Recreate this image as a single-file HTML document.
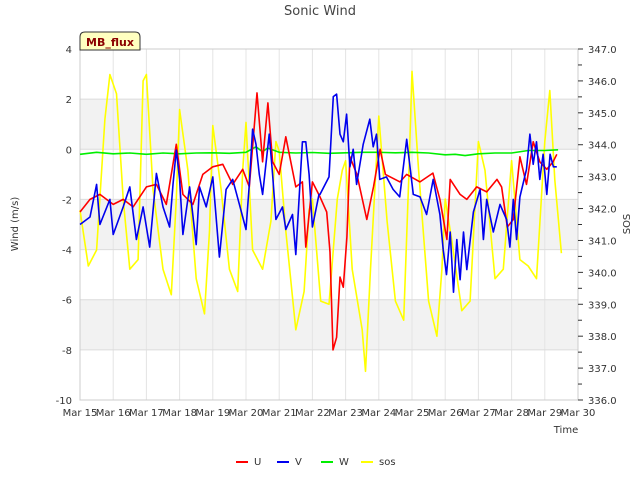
<!DOCTYPE html>
<html><head><meta charset="utf-8"><style>
body{margin:0;background:#fff;font-family:"Liberation Sans","DejaVu Sans",sans-serif}
svg text{font-family:"DejaVu Sans","Liberation Sans",sans-serif}
</style></head><body>
<svg id="c" width="640" height="480" viewBox="0 0 640 480" xmlns="http://www.w3.org/2000/svg"></svg>
<script>
const xTickLabels=["Mar 15","Mar 16","Mar 17","Mar 18","Mar 19","Mar 20","Mar 21","Mar 22","Mar 23","Mar 24","Mar 25","Mar 26","Mar 27","Mar 28","Mar 29","Mar 30"];
const yLeftTicks=[4,2,0,-2,-4,-6,-8,-10];
const yRightTicks=[347,346,345,344,343,342,341,340,339,338,337,336];
const uT=[15.0,15.3,15.6,16.0,16.3,16.6,17.0,17.3,17.6,17.9,18.1,18.4,18.7,19.0,19.3,19.6,19.9,20.1,20.33,20.5,20.66,20.8,21.0,21.2,21.5,21.7,21.8,22.0,22.23,22.43,22.53,22.62,22.73,22.83,22.93,23.04,23.13,23.34,23.64,23.84,24.04,24.2,24.64,24.84,25.24,25.63,25.84,26.05,26.15,26.45,26.65,26.95,27.25,27.56,27.7,27.87,28.05,28.25,28.45,28.65,28.85,29.06,29.25,29.36];
const uV=[-2.5,-2.0,-1.8,-2.2,-2.0,-2.3,-1.5,-1.4,-2.2,0.2,-1.8,-2.2,-1.0,-0.7,-0.6,-1.4,-0.8,-1.5,2.25,-0.5,1.85,-0.5,-1.0,0.5,-1.5,-1.3,-3.9,-1.3,-1.9,-2.5,-4.1,-8.0,-7.5,-5.1,-5.5,-3.5,-0.3,-1.0,-2.8,-1.5,0.0,-1.0,-1.3,-1.0,-1.3,-0.95,-2.0,-3.6,-1.2,-1.8,-2.0,-1.5,-1.7,-1.2,-1.5,-3.1,-2.8,-0.3,-1.4,0.3,-0.5,-0.8,-0.5,-0.2];
const vT=[15.0,15.3,15.5,15.6,15.9,16.0,16.3,16.5,16.7,16.9,17.1,17.3,17.5,17.7,17.8,17.9,18.0,18.1,18.3,18.5,18.6,18.8,19.0,19.2,19.4,19.6,19.8,20.0,20.1,20.2,20.3,20.4,20.5,20.7,20.8,20.9,21.1,21.2,21.4,21.5,21.7,21.8,21.9,22.0,22.2,22.23,22.5,22.63,22.73,22.83,22.93,23.03,23.13,23.23,23.33,23.53,23.73,23.83,23.93,24.03,24.23,24.43,24.63,24.84,25.04,25.24,25.44,25.64,25.84,25.94,26.04,26.15,26.25,26.35,26.45,26.55,26.65,26.85,27.05,27.15,27.25,27.45,27.65,27.85,27.95,28.05,28.15,28.25,28.45,28.55,28.65,28.75,28.85,28.95,29.06,29.16,29.26,29.36];
const vV=[-3.0,-2.7,-1.4,-3.0,-2.0,-3.4,-2.3,-1.5,-3.6,-2.3,-3.9,-0.96,-2.3,-3.1,-1.4,-0.03,-1.2,-3.4,-1.5,-3.8,-1.5,-2.3,-1.1,-4.3,-1.6,-1.2,-2.2,-3.2,-1.4,0.8,0.2,-1.0,-1.8,0.6,-1.0,-2.8,-2.3,-3.2,-2.6,-4.2,0.3,0.3,-1.0,-3.1,-1.8,-1.8,-1.1,2.1,2.2,0.6,0.3,1.4,-0.7,0.0,-1.4,0.2,1.2,0.1,0.6,-1.2,-1.1,-1.6,-1.9,0.4,-1.8,-1.9,-2.6,-1.2,-2.6,-4.0,-5.0,-3.3,-5.7,-3.6,-5.2,-3.3,-4.8,-2.5,-1.6,-3.6,-2.0,-3.3,-2.2,-2.8,-3.9,-2.0,-3.6,-1.9,-0.8,0.6,-0.6,0.3,-1.2,-0.2,-1.8,-0.2,-0.7,-0.7];
const wT=[15.0,15.5,16.0,16.5,17.0,17.5,18.0,18.5,19.0,19.5,20.0,20.3,20.5,20.65,21.0,21.5,22.0,22.5,23.0,23.5,24.0,24.5,25.0,25.5,26.0,26.3,26.6,27.0,27.5,28.0,28.5,29.0,29.4];
const wV=[-0.2,-0.12,-0.18,-0.15,-0.2,-0.15,-0.18,-0.15,-0.14,-0.16,-0.12,0.1,-0.1,0.05,-0.12,-0.15,-0.13,-0.16,-0.14,-0.12,-0.12,-0.14,-0.12,-0.15,-0.22,-0.2,-0.25,-0.18,-0.15,-0.15,-0.05,-0.05,-0.02];
const sT=[15.0,15.25,15.5,15.75,15.9,16.1,16.3,16.5,16.75,16.9,17.0,17.2,17.5,17.75,17.9,18.0,18.25,18.5,18.75,18.9,19.0,19.25,19.5,19.75,19.9,20.0,20.2,20.5,20.75,20.9,21.0,21.2,21.5,21.75,21.9,22.0,22.25,22.5,22.75,22.9,23.0,23.2,23.5,23.6,23.75,24.0,24.25,24.5,24.75,24.9,25.0,25.2,25.5,25.75,25.9,26.0,26.2,26.5,26.75,27.0,27.2,27.5,27.75,28.0,28.25,28.5,28.75,29.0,29.15,29.3,29.5];
const sV=[341.95,340.2,340.7,344.8,346.2,345.6,342.3,340.1,340.4,346.0,346.2,342.6,340.1,339.3,342.3,345.1,343.2,339.8,338.7,341.3,344.6,342.6,340.1,339.4,343.2,344.7,340.7,340.1,341.6,344.1,343.8,341.3,338.2,339.4,341.95,342.3,339.1,339.0,342.3,343.2,343.5,340.1,338.2,336.9,340.1,344.9,341.6,339.1,338.5,342.9,346.3,343.2,339.1,338.0,340.1,342.3,341.0,338.8,339.1,344.1,343.2,339.8,340.1,343.5,340.4,340.2,339.8,344.1,345.7,342.9,340.6];

const L=80,R=578,T=49,B=400;
const xs=d=>L+(d-15)*(R-L)/15;
const yl=v=>T+(4-v)*(B-T)/14;
const yr=v=>T+(347-v)*(B-T)/11;
const svg=document.getElementById('c');
const NS='http://www.w3.org/2000/svg';
function mk(tag,attrs,parent){const e=document.createElementNS(NS,tag);for(const k in attrs)e.setAttribute(k,attrs[k]);(parent||svg).appendChild(e);return e;}
function txt(s,attrs){const e=mk('text',attrs);e.textContent=s;return e;}

// bands
[[2,0],[-2,-4],[-6,-8]].forEach(b=>{const r=mk('rect',{x:L,y:yl(b[0]),width:R-L,height:yl(b[1])-yl(b[0]),fill:'#f2f2f2'});

});
for(let d=15;d<=30;d++){const g=mk('line',{x1:xs(d),x2:xs(d),y1:T,y2:B,stroke:'#e4e4e4','stroke-width':1});

}
yLeftTicks.forEach(v=>{const g=mk('line',{x1:L,x2:R,y1:yl(v),y2:yl(v),stroke:'#dcdcdc','stroke-width':1});


const t=txt(v,{x:72,y:yl(v)+4,'text-anchor':'end','font-size':10,fill:'#333'});

});
const fr=mk('rect',{x:L,y:T,width:R-L,height:B-T,fill:'none',stroke:'#cccccc'});


xTickLabels.forEach((s,i)=>{const t=txt(s,{x:xs(15+i),y:416,'text-anchor':'middle','font-size':10,fill:'#333'});

});
for(let v=336;v<=347.001;v+=0.5){const major=Math.abs(v-Math.round(v))<0.01;
const tk=mk('line',{x1:R,x2:R+(major?5:4),y1:yr(v),y2:yr(v),stroke:'#333'});

}
yRightTicks.forEach(v=>{const t=txt(v.toFixed(1),{x:588,y:yr(v)+4,'font-size':10,fill:'#333'});

});

function line(ts,vs,yf,color,name){const p=ts.map((t,i)=>xs(t).toFixed(1)+','+yf(vs[i]).toFixed(1)).join(' ');
const e=mk('polyline',{points:p,fill:'none',stroke:color,'stroke-width':1.6,'stroke-linejoin':'round'});

}
line(sT,sV,yr,'#ffff00','series-sos');
line(wT,wV,yl,'#00ee00','series-w');
line(uT,uV,yl,'#ff0000','series-u');
line(vT,vV,yl,'#0000ee','series-v');

const tt=txt('Sonic Wind',{x:320,y:15,'text-anchor':'middle','font-size':13,fill:'#444'});


const xt=txt('Time',{x:566,y:433,'text-anchor':'middle','font-size':10,fill:'#333'});


const yt=txt('Wind (m/s)',{x:0,y:0,transform:'translate(18,224) rotate(-90)','text-anchor':'middle','font-size':10,fill:'#333'});


const y2=txt('SOS',{x:0,y:0,transform:'translate(630,224) rotate(-90)','text-anchor':'middle','font-size':10,fill:'#333'});


const bd=mk('path',{d:'M80,50 L80,37 Q80,32 85,32 L135,32 Q140,32 140,37 L140,50 Z',fill:'#ffffc0',stroke:'#333','stroke-width':1});


const bt=txt('MB_flux',{x:110,y:46,'text-anchor':'middle','font-size':11,'font-weight':'bold',fill:'#8b0000'});


[['U','#ff0000',236],['V','#0000ee',277],['W','#00ee00',321],['sos','#ffff00',361]].forEach(l=>{
const g=mk('g',{});


mk('line',{x1:l[2],x2:l[2]+12,y1:462,y2:462,stroke:l[1],'stroke-width':2},g);
const t=mk('text',{x:l[2]+18,y:465,'font-size':10,fill:'#333'},g);t.textContent=l[0];});
</script>
</body></html>
